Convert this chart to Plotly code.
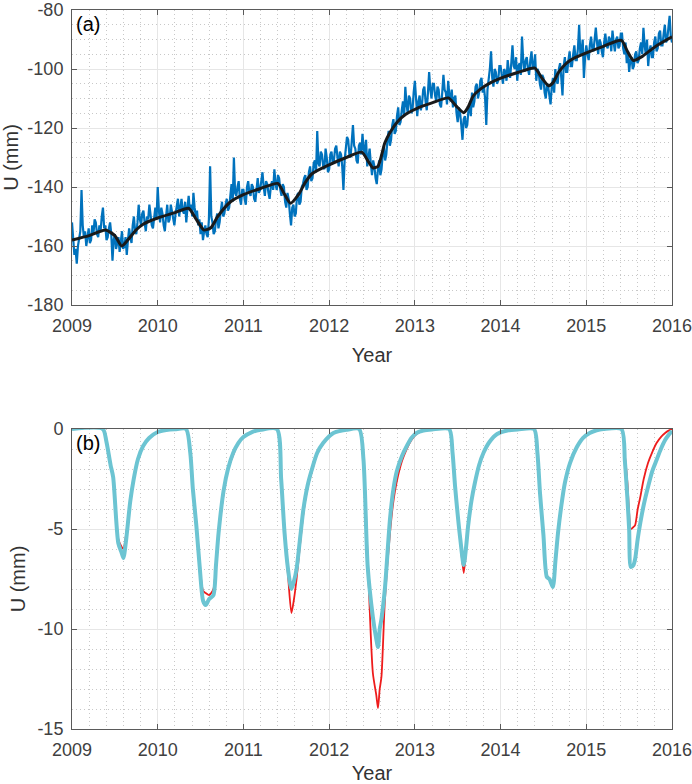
import numpy as np
import plotly.graph_objects as go

# ---------------- Panel (a): GPS vertical displacement ----------------
# Observed series sampled every 1/72 year (about 5 days), one list per year
u_2009 = [-152, -158, -163, -161, -166, -160, -158, -155, -141, -153, -157, -155,
          -160, -156, -154, -159, -158, -153, -156, -151, -152, -156, -157, -153,
          -155, -150, -147, -154, -153, -158, -157, -154, -152, -156, -165, -158,
          -156, -161, -159, -157, -162, -158, -155, -161, -160, -157, -163, -158,
          -154, -157, -159, -153, -150, -155, -156, -152, -146, -151, -153, -149,
          -148, -152, -155, -150, -151, -146, -149, -153, -154, -150, -147, -151]
u_2010 = [-140, -148, -152, -147, -149, -153, -155, -150, -146, -152, -151, -146,
          -148, -151, -153, -149, -147, -144, -150, -146, -144, -148, -149, -145,
          -152, -147, -143, -148, -146, -150, -142, -147, -150, -148, -153, -151,
          -156, -152, -158, -155, -153, -156, -157, -151, -133, -150, -152, -156,
          -155, -151, -149, -154, -152, -148, -145, -150, -149, -146, -144, -148,
          -147, -143, -139, -145, -130, -142, -143, -140, -138, -144, -146, -141]
u_2011 = [-141, -144, -146, -140, -138, -142, -143, -139, -140, -144, -145, -141,
          -137, -142, -141, -138, -135, -140, -143, -138, -139, -142, -144, -140,
          -138, -141, -134, -139, -141, -136, -137, -141, -143, -139, -140, -145,
          -147, -142, -144, -149, -153, -147, -146, -150, -149, -143, -142, -146,
          -145, -140, -139, -137, -136, -141, -140, -135, -133, -138, -137, -132,
          -131, -135, -121, -132, -133, -128, -129, -133, -134, -127, -130, -135]
u_2012 = [-134, -129, -128, -132, -131, -127, -126, -130, -133, -128, -129, -133,
          -141, -131, -127, -123, -124, -129, -130, -125, -119, -126, -127, -131,
          -132, -126, -125, -129, -122, -127, -129, -124, -133, -130, -127, -132,
          -136, -131, -133, -137, -139, -134, -131, -136, -134, -129, -126, -131,
          -129, -124, -121, -126, -124, -119, -117, -122, -121, -116, -113, -119,
          -118, -114, -111, -116, -106, -112, -115, -109, -110, -115, -114, -108]
u_2013 = [-104, -110, -116, -111, -109, -114, -112, -107, -106, -111, -114, -108,
          -101, -107, -110, -105, -105, -109, -111, -106, -107, -112, -113, -108,
          -102, -107, -108, -112, -104, -109, -111, -107, -113, -110, -109, -115,
          -118, -113, -115, -119, -124, -117, -116, -120, -119, -114, -112, -116,
          -108, -113, -111, -106, -105, -110, -108, -104, -103, -108, -106, -110,
          -119, -107, -104, -100, -94, -103, -106, -100, -101, -105, -104, -99]
u_2014 = [-99, -103, -105, -100, -101, -104, -97, -101, -103, -98, -92, -99,
          -100, -96, -104, -99, -98, -102, -89, -97, -101, -97, -96, -100,
          -102, -97, -94, -100, -99, -95, -104, -100, -101, -105, -107, -102,
          -103, -108, -110, -105, -106, -109, -112, -106, -103, -108, -100, -104,
          -105, -100, -98, -103, -109, -99, -96, -101, -101, -97, -94, -99,
          -99, -95, -92, -97, -97, -93, -85, -95, -94, -90, -103, -96]
u_2015 = [-92, -95, -97, -92, -89, -93, -94, -90, -86, -91, -95, -90,
          -91, -94, -96, -91, -88, -92, -93, -89, -90, -94, -87, -91,
          -94, -90, -89, -93, -92, -88, -88, -93, -95, -91, -98, -94,
          -101, -97, -96, -100, -99, -95, -94, -98, -97, -93, -91, -95,
          -86, -92, -95, -90, -99, -94, -92, -96, -96, -91, -89, -94,
          -93, -88, -87, -92, -92, -88, -85, -91, -90, -86, -82, -89]
u_2016_start = [-91]

# Fitted model (black curve), knots
fit_t = [2009.00, 2009.20, 2009.39, 2009.50, 2009.58, 2009.65, 2009.75, 2009.83,
         2010.00, 2010.20, 2010.36, 2010.45, 2010.54, 2010.62, 2010.70, 2010.85,
         2011.00, 2011.20, 2011.40, 2011.48, 2011.55, 2011.64, 2011.72, 2011.80,
         2012.00, 2012.20, 2012.38, 2012.46, 2012.51, 2012.57, 2012.65, 2012.71,
         2012.80, 2012.89, 2013.02, 2013.20, 2013.39, 2013.48, 2013.57, 2013.62,
         2013.68, 2013.78, 2013.88, 2014.01, 2014.20, 2014.40, 2014.48, 2014.56,
         2014.61, 2014.68, 2014.77, 2014.88, 2015.00, 2015.20, 2015.41, 2015.48,
         2015.55, 2015.65, 2015.80, 2016.00]
fit_u = [-158.0, -156.5, -154.6, -156.5, -160.0, -158.0, -154.5, -152.6,
         -150.5, -148.7, -147.2, -151.0, -154.6, -153.8, -150.0, -145.0,
         -142.6, -140.5, -138.8, -142.5, -145.5, -142.7, -138.5, -135.5,
         -132.5, -130.0, -128.2, -131.5, -133.5, -133.0, -125.0, -121.5,
         -117.8, -115.4, -113.4, -111.5, -109.8, -112.5, -114.8, -113.0,
         -109.2, -106.5, -104.7, -103.0, -101.2, -99.7, -103.0, -105.7,
         -104.7, -101.0, -98.0, -96.0, -94.5, -92.3, -90.3, -94.0,
         -97.1, -95.8, -92.5, -89.1]

# ---------------- Panel (b): modelled loading displacement ----------------
load_t = [2009.00, 2009.36, 2009.40, 2009.45, 2009.48, 2009.54, 2009.58, 2009.60, 2009.63,
          2009.68, 2009.72, 2009.77, 2009.83, 2009.90, 2010.00, 2010.10, 2010.20,
          2010.33, 2010.38, 2010.41, 2010.45, 2010.49, 2010.53, 2010.56, 2010.60, 2010.65,
          2010.68, 2010.71, 2010.77, 2010.82, 2010.88, 2010.94, 2011.00, 2011.10, 2011.20,
          2011.39, 2011.44, 2011.48, 2011.52, 2011.56, 2011.59, 2011.62, 2011.66, 2011.70,
          2011.75, 2011.80, 2011.86, 2011.93, 2012.05, 2012.20,
          2012.35, 2012.40, 2012.45, 2012.51, 2012.55, 2012.57, 2012.59, 2012.61, 2012.65,
          2012.71, 2012.75, 2012.79, 2012.85, 2012.90, 2012.96, 2013.02, 2013.10, 2013.20,
          2013.40, 2013.44, 2013.47, 2013.53, 2013.57, 2013.60, 2013.62, 2013.66, 2013.70,
          2013.75, 2013.80, 2013.87, 2013.96, 2014.08, 2014.20,
          2014.39, 2014.43, 2014.46, 2014.50, 2014.54, 2014.57, 2014.61, 2014.64, 2014.67,
          2014.71, 2014.75, 2014.81, 2014.89, 2014.96, 2015.04, 2015.12, 2015.20,
          2015.41, 2015.45, 2015.48, 2015.50, 2015.52, 2015.55, 2015.57, 2015.60, 2015.63,
          2015.67, 2015.72, 2015.77, 2015.82, 2015.87, 2015.92, 2015.96, 2016.00]
load_red = [0, 0, -0.6, -1.8, -2.4, -5.5, -5.9, -6.0, -5.3,
            -3.6, -2.5, -1.5, -0.85, -0.45, -0.15, -0.05, -0.01,
            0, -1.2, -3.0, -4.8, -6.8, -8.1, -8.2, -8.3, -8.0,
            -6.7, -5.3, -3.2, -2.0, -1.3, -0.7, -0.4, -0.15, -0.04,
            0, -2.5, -5.3, -7.3, -9.2, -8.5, -7.5, -5.8, -4.2,
            -2.9, -2.1, -1.25, -0.75, -0.2, -0.04,
            0, -1.5, -6.5, -12.2, -13.3, -13.95, -13.0, -12.4, -8.6,
            -5.2, -3.6, -2.6, -1.6, -1.05, -0.55, -0.25, -0.07, -0.02,
            0, -1.2, -2.9, -5.6, -7.2, -6.0, -5.0, -3.6, -2.7,
            -1.8, -1.2, -0.65, -0.25, -0.07, -0.02,
            0, -1.2, -3.2, -5.3, -7.3, -7.5, -7.9, -6.7, -5.3,
            -3.8, -2.7, -1.7, -0.9, -0.45, -0.2, -0.06, 0,
            0, -1.3, -2.7, -4.2, -5.0, -4.9, -4.8, -4.0, -3.4,
            -2.5, -1.7, -1.15, -0.7, -0.4, -0.2, -0.08, 0]
load_cyan = [0, 0, -0.6, -1.8, -2.4, -5.7, -6.2, -6.45, -5.6,
             -3.6, -2.5, -1.5, -0.85, -0.45, -0.15, -0.05, -0.01,
             0, -1.2, -3.0, -4.8, -6.9, -8.6, -8.8, -8.5, -8.3,
             -6.8, -5.2, -3.05, -2.0, -1.2, -0.7, -0.4, -0.15, -0.04,
             0, -2.5, -5.2, -7.0, -8.0, -7.6, -7.0, -5.5, -4.0,
             -2.8, -2.0, -1.2, -0.7, -0.2, -0.04,
             0, -1.5, -6.9, -9.4, -10.5, -10.9, -10.0, -9.5, -8.0,
             -4.5, -3.0, -2.1, -1.35, -0.9, -0.45, -0.2, -0.07, -0.02,
             0, -1.2, -2.9, -5.5, -6.8, -5.8, -4.9, -3.6, -2.7,
             -1.8, -1.2, -0.65, -0.25, -0.07, -0.02,
             0, -1.2, -3.2, -5.3, -7.4, -7.5, -7.9, -6.6, -5.2,
             -3.8, -2.7, -1.7, -0.9, -0.45, -0.2, -0.06, 0,
             0, -1.6, -3.5, -5.0, -6.9, -6.8, -6.5, -5.5, -4.7,
             -3.8, -2.9, -2.1, -1.55, -1.0, -0.55, -0.3, -0.1]

# ---------------- Tick labels ----------------
year_ticks = [2009, 2010, 2011, 2012, 2013, 2014, 2015, 2016]
year_labels = ["2009", "2010", "2011", "2012", "2013", "2014", "2015", "2016"]
ya_ticks = [-180, -160, -140, -120, -100, -80]
ya_labels = ["-180", "-160", "-140", "-120", "-100", "-80"]
yb_ticks = [-15, -10, -5, 0]
yb_labels = ["-15", "-10", "-5", "0"]

# assemble observed series (sampling grid of 72 epochs per year)
obs_u = u_2009 + u_2010 + u_2011 + u_2012 + u_2013 + u_2014 + u_2015 + u_2016_start
obs_t = 2009 + np.arange(len(obs_u)) / 72.0

FONT = "Liberation Sans, Arial, Helvetica, sans-serif"

fig = go.Figure()
fig.add_trace(go.Scatter(x=obs_t, y=obs_u, mode="lines",
                         line=dict(color="#0072BD", width=2.2),
                         xaxis="x", yaxis="y", showlegend=False))
fig.add_trace(go.Scatter(x=fit_t, y=fit_u, mode="lines", line_shape="spline",
                         line=dict(color="#1a1a1a", width=3, smoothing=0.6),
                         xaxis="x", yaxis="y", showlegend=False))
fig.add_trace(go.Scatter(x=load_t, y=load_red, mode="lines", line_shape="spline",
                         line=dict(color="#EE1C1C", width=1.8, smoothing=0.7),
                         xaxis="x2", yaxis="y2", showlegend=False))
fig.add_trace(go.Scatter(x=load_t, y=load_cyan, mode="lines", line_shape="spline",
                         line=dict(color="#6CC4D2", width=4, smoothing=0.7),
                         xaxis="x2", yaxis="y2", showlegend=False))

MINOR_GRID = dict(showgrid=True, gridcolor="#c8c8c8", griddash="1px,3px", gridwidth=1)


def axis_style(**kw):
    d = dict(showline=True, linecolor="#5a5a5a", linewidth=1, mirror="ticks",
             ticks="inside", ticklen=5, tickcolor="#5a5a5a", automargin=False,
             showgrid=True, gridcolor="#e6e6e6", gridwidth=1, zeroline=False,
             tickfont=dict(family=FONT, size=18, color="#404040"),
             ticklabeloverflow="allow", layer="above traces")
    d.update(kw)
    return d


def x_common():
    return dict(range=[2009, 2016], tickmode="array", tickvals=year_ticks,
                ticktext=year_labels, ticklabelstandoff=4,
                minor=dict(dtick=0.2, tick0=2009, **MINOR_GRID),
                title=dict(text="Year", font=dict(family=FONT, size=20, color="#333333"),
                           standoff=13))


fig.update_layout(
    width=692, height=784,
    margin=dict(l=72, r=20, t=10, b=55),
    paper_bgcolor="white", plot_bgcolor="white",
    font=dict(family=FONT),
    xaxis=axis_style(domain=[0, 1], anchor="y", **x_common()),
    yaxis=axis_style(domain=[0.5897, 1.0], anchor="x", range=[-180, -80],
                     tickmode="array", tickvals=ya_ticks, ticktext=ya_labels,
                     ticklabelstandoff=4,
                     minor=dict(dtick=5, tick0=-180, **MINOR_GRID),
                     title=dict(text="U (mm)", font=dict(family=FONT, size=20, color="#333333"),
                                standoff=6)),
    xaxis2=axis_style(domain=[0, 1], anchor="y2", **x_common()),
    yaxis2=axis_style(domain=[0.0, 0.4172], anchor="x2", range=[-15, 0],
                      tickmode="array", tickvals=yb_ticks, ticktext=yb_labels,
                      ticklabelstandoff=4,
                      minor=dict(dtick=1, tick0=-15, **MINOR_GRID),
                      title=dict(text="U (mm)", font=dict(family=FONT, size=20, color="#333333"),
                                 standoff=6)),
    annotations=[
        dict(text="(a)", xref="x domain", yref="y domain", x=0.003, y=0.997,
             xanchor="left", yanchor="top", showarrow=False,
             font=dict(family=FONT, size=20, color="#000000")),
        dict(text="(b)", xref="x2 domain", yref="y2 domain", x=0.003, y=0.997,
             xanchor="left", yanchor="top", showarrow=False,
             font=dict(family=FONT, size=20, color="#000000")),
    ],
)

fig.write_html("out.html",
               config={"displayModeBar": False},
               post_script="document.body.style.margin='0';document.body.style.padding='0';")
